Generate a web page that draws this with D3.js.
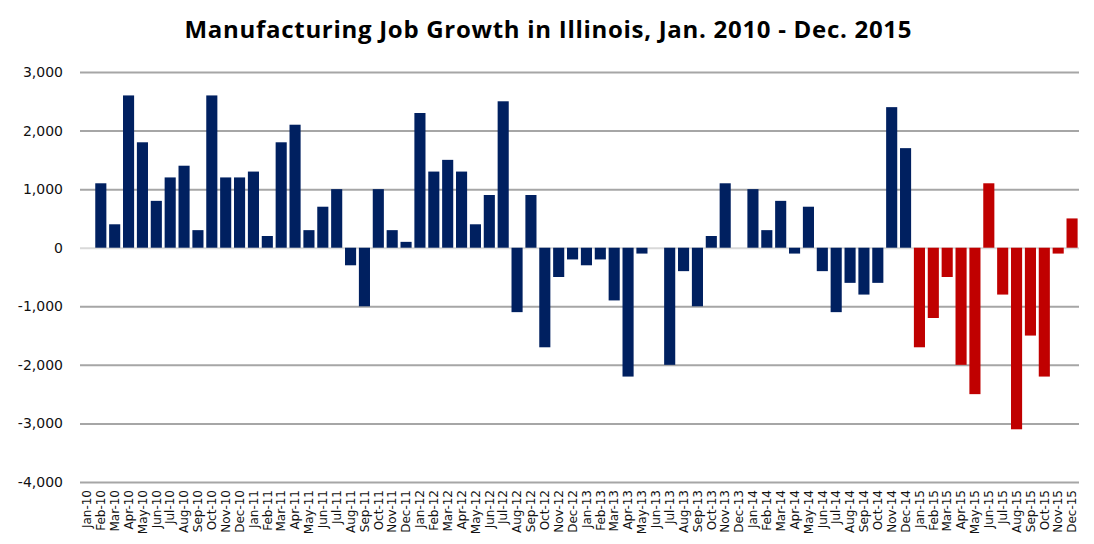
<!DOCTYPE html>
<html>
<head>
<meta charset="utf-8">
<script src="https://cdn.jsdelivr.net/npm/d3@7"></script>
<style>
body{margin:0;background:#fff;}
svg{display:block;}
</style>
</head>
<body>
<svg id="chart" width="1094" height="544"></svg>
<script>
const months = ["Jan","Feb","Mar","Apr","May","Jun","Jul","Aug","Sep","Oct","Nov","Dec"];
const years = ["10","11","12","13","14","15"];
const categories = years.flatMap(y => months.map(m => m + "-" + y));
const values2010 = [0,1100,400,2600,1800,800,1200,1400,300,2600,1200,1200];
const values2011 = [1300,200,1800,2100,300,700,1000,-300,-1000,1000,300,100];
const values2012 = [2300,1300,1500,1300,400,900,2500,-1100,900,-1700,-500,-200];
const values2013 = [-300,-200,-900,-2200,-100,0,-2000,-400,-1000,200,1100,0];
const values2014 = [1000,300,800,-100,700,-400,-1100,-600,-800,-600,2400,1700];
const values2015 = [-1700,-1200,-500,-2000,-2500,1100,-800,-3100,-1500,-2200,-100,500];
const values = [...values2010,...values2011,...values2012,...values2013,...values2014,...values2015];
const yTicks = [-4000,-3000,-2000,-1000,0,1000,2000,3000];
const yTickLabels = ["-4,000","-3,000","-2,000","-1,000","0","1,000","2,000","3,000"];
const title = "Manufacturing Job Growth in Illinois, Jan. 2010 - Dec. 2015";

const svg = d3.select("#chart");
const W = 1094, H = 544;
const m = {left:80, right:15, top:72, bottom:62};
const x = d3.scaleBand().domain(categories).range([m.left, W - m.right]).paddingInner(0.2).paddingOuter(0.1);
const y = d3.scaleLinear().domain([-4000,3000]).range([H - m.bottom, m.top]);

const t = svg.append("text").attr("x", 548).attr("y", 38).attr("text-anchor","middle")
  .attr("font-family","Open Sans, sans-serif").attr("font-weight","bold").attr("font-size",24)
  .attr("fill","#000").text(title);
const tl = t.node().getComputedTextLength();
if (tl < 727) t.attr("textLength", 727).attr("lengthAdjust","spacing");

const yAxis = svg.append("g").attr("transform",`translate(${m.left},0)`)
  .call(d3.axisLeft(y).tickValues(yTicks).tickSize(-(W - m.right - m.left)).tickPadding(17)
    .tickFormat((d,i) => yTickLabels[yTicks.indexOf(d)]));
yAxis.select(".domain").remove();
yAxis.selectAll(".tick line").attr("stroke", d => d === 0 ? "#d9d9d9" : "#a6a6a6").attr("stroke-width", 2);
yAxis.selectAll(".tick text").attr("font-family","DejaVu Sans, sans-serif").attr("font-size",14).attr("fill","#111");

svg.append("g").selectAll("rect").data(values).join("rect")
  .attr("x", (d,i) => x(categories[i]))
  .attr("width", x.bandwidth())
  .attr("y", d => y(Math.max(0,d)))
  .attr("height", d => Math.abs(y(d) - y(0)))
  .attr("fill", (d,i) => i >= 60 ? "#c00000" : "#002060");

const xAxis = svg.append("g").attr("transform",`translate(0,${H - m.bottom})`)
  .call(d3.axisBottom(x).tickSize(0).tickPadding(0));
xAxis.select(".domain").remove();
xAxis.selectAll(".tick text")
  .attr("font-family","DejaVu Sans, sans-serif").attr("font-size",12).attr("fill","#111")
  .attr("transform","rotate(-90)").attr("text-anchor","end").attr("dy","0.35em").attr("x",-8).attr("y",0);
</script>
</body>
</html>
